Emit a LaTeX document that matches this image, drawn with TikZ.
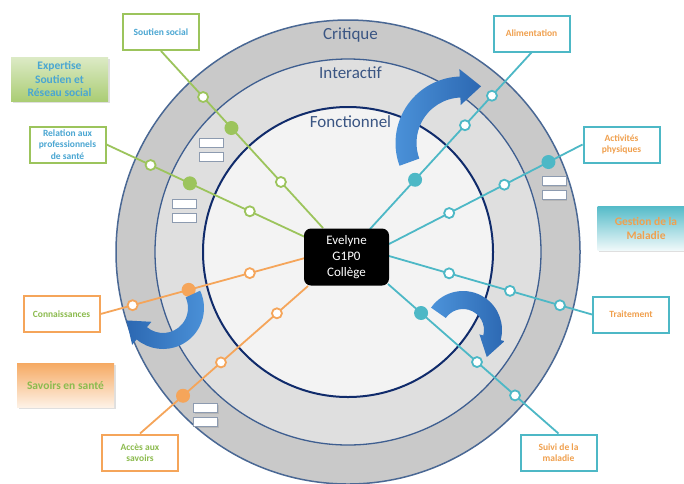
\documentclass[tikz,border=0pt]{standalone}
\usepackage{fontspec}
\setmainfont{Carlito}
\usetikzlibrary{calc,shadows}
\definecolor{ringA}{HTML}{C9C9C9}
\definecolor{ringB}{HTML}{DFDFDF}
\definecolor{ringC}{HTML}{F3F3F3}
\definecolor{lineA}{HTML}{4A6894}
\definecolor{lineB}{HTML}{3E5E90}
\definecolor{lineC}{HTML}{102B6B}
\definecolor{ringtxt}{HTML}{3A5583}
\definecolor{grn}{HTML}{9CC45C}
\definecolor{tea}{HTML}{4DB8C6}
\definecolor{ora}{HTML}{F5A55A}
\definecolor{txtblue}{HTML}{4AA6D2}
\definecolor{txtora}{HTML}{F0A04E}
\definecolor{txtgrn}{HTML}{8CBB4E}
\definecolor{arrlight}{HTML}{4C93DA}
\definecolor{arrdark}{HTML}{2C68B2}
\definecolor{slotc}{HTML}{8D9BB0}
\begin{document}
\begin{tikzpicture}[x=1pt,y=-1pt,
  labbox/.style={draw=#1, line width=2pt, fill=white, minimum width=76pt, minimum height=36pt,
    align=center, font=\fontsize{9.5}{11.3}\selectfont\bfseries, inner sep=1pt,
    drop shadow={shadow xshift=1pt, shadow yshift=-1pt, opacity=0.15}},
  wdot/.style={circle, draw=#1, line width=1.8pt, fill=white, minimum size=10pt, inner sep=0pt},
  fdot/.style={circle, fill=#1, minimum size=14pt, inner sep=0pt},
  spoke/.style={draw=#1, line width=1.8pt},
  slotbox/.style={draw=slotc, line width=0.8pt, fill=white, minimum width=24pt, minimum height=9pt,
    inner sep=0pt, drop shadow={shadow xshift=1pt, shadow yshift=-1pt, opacity=0.25}},
  ringlabel/.style={text=ringtxt, font=\fontsize{17}{19}\selectfont, inner sep=0pt},
  grp/.style={minimum width=97pt, minimum height=44pt, align=center, inner sep=1pt,
    font=\fontsize{11.5}{13.5}\selectfont\bfseries,
    drop shadow={shadow xshift=1.5pt, shadow yshift=-1.5pt, opacity=0.25}},
  bigarrow/.style={draw=none, shade}
]
\useasboundingbox (0,0) rectangle (684,483);
\fill[white] (0,0) rectangle (684,483);

% rings
\coordinate (o) at (348,252);
\draw[fill=ringA, draw=lineA, line width=1.5pt] (o) circle[radius=232];
\draw[fill=ringB, draw=lineB, line width=1.3pt] (o) circle[radius=193];
\draw[fill=ringC, draw=lineC, line width=2pt] (o) circle[radius=145];

\node[ringlabel] (tcrit) at (350.5,35) {Critique};
\node[ringlabel] (tint) at (350.5,73) {Interactif};
\node[ringlabel] (tfon) at (350.5,122) {Fonctionnel};

% small slots
\node[slotbox] (s1a) at (211,142.5) {};
\node[slotbox] (s1b) at (211,156.5) {};
\node[slotbox] (s2a) at (184,203.5) {};
\node[slotbox] (s2b) at (184,217.5) {};
\node[slotbox] (s3a) at (554,181) {};
\node[slotbox] (s3b) at (554,195) {};
\node[slotbox] (s4a) at (205.5,408) {};
\node[slotbox] (s4b) at (205.5,422) {};

% label boxes
\node[labbox=grn, text=txtblue] (l1) at (161,32) {Soutien social};
\node[labbox=grn, text=txtblue] (l2) at (67.5,144.5) {Relation aux\\professionnels\\de santé};
\node[labbox=ora, text=txtgrn] (l3) at (61.5,314) {Connaissances};
\node[labbox=ora, text=txtgrn] (l4) at (140,452.5) {Accès aux\\savoirs};
\node[labbox=tea, text=txtora] (l5) at (531.5,33.5) {Alimentation};
\node[labbox=tea, text=txtora] (l6) at (621.5,144.5) {Activités\\physiques};
\node[labbox=tea, text=txtora] (l7) at (631,314.5) {Traitement};
\node[labbox=tea, text=txtora] (l8) at (558.5,452.5) {Suivi de la\\maladie};

% group labels
\node[grp, top color=grn!35!white, bottom color=grn!85!white, text=txtblue] (g1) at (59.5,79) {Expertise\\Soutien et\\Réseau social};
\node[grp, top color=ora!95!white, bottom color=ora!15!white, text=txtgrn] (g2) at (65.5,385) {Savoirs en santé};
\node[grp, top color=tea!95!white, bottom color=tea!8!white, text=txtora] (g3) at (646,228.5) {Gestion de la\\Maladie};

% spokes inner ends
\coordinate (a1) at (323,228);
\coordinate (a2) at (305,237);
\coordinate (a3) at (305,258);
\coordinate (a4) at (308,286);
\coordinate (a5) at (370,229);
\coordinate (a6) at (389,244);
\coordinate (a7) at (389,256);
\coordinate (a8) at (388,284);

\draw[spoke=grn] (a1) -- (l1.south)
  node[wdot=grn, pos=0.26] (d1a) {} node[fdot=grn, pos=0.565] (d1b) {} node[wdot=grn, pos=0.74] (d1c) {};
\draw[spoke=grn] (a2) -- (l2.east)
  node[wdot=grn, pos=0.278] (d2a) {} node[fdot=grn, pos=0.58] (d2b) {} node[wdot=grn, pos=0.778] (d2c) {};
\draw[spoke=ora] (a3) -- (l3.east)
  node[wdot=ora, pos=0.27] (d3a) {} node[fdot=ora, pos=0.569] (d3b) {} node[wdot=ora, pos=0.843] (d3c) {};
\draw[spoke=ora] (a4) -- (l4.north)
  node[wdot=ora, pos=0.185] (d4a) {} node[wdot=ora, pos=0.518] (d4b) {} node[fdot=ora, pos=0.744] (d4c) {};
\draw[spoke=tea] (a5) -- (l5.south)
  node[fdot=tea, pos=0.279] (d5a) {} node[wdot=tea, pos=0.588] (d5b) {} node[wdot=tea, pos=0.755] (d5c) {};
\draw[spoke=tea] (a6) -- (l6.west)
  node[wdot=tea, pos=0.311] (d6a) {} node[wdot=tea, pos=0.596] (d6b) {} node[fdot=tea, pos=0.824] (d6c) {};
\draw[spoke=tea] (a7) -- (l7.west)
  node[wdot=tea, pos=0.296] (d7a) {} node[wdot=tea, pos=0.596] (d7b) {} node[wdot=tea, pos=0.842] (d7c) {};
\draw[spoke=tea] (a8) -- (l8.north)
  node[fdot=tea, pos=0.194] (d8a) {} node[wdot=tea, pos=0.522] (d8b) {} node[wdot=tea, pos=0.745] (d8c) {};

% center
\node[fill=black, rounded corners=7pt, minimum width=85pt, minimum height=57pt, text=white,
  align=center, font=\fontsize{13}{16}\selectfont] (ev) at (346.5,257) {Evelyne\\G1P0\\Collège};

% curved arrows
\coordinate (c1) at (462,143);
\shade[left color=arrlight, right color=arrdark]
  ($(c1)+(160:66.5)$) arc[start angle=160, end angle=268, radius=66.5]
  -- ($(c1)+(268:74)$) -- ($(c1)+(268:56)+(358:21)$) -- ($(c1)+(268:38)$)
  -- ($(c1)+(268:45.5)$) arc[start angle=268, end angle=160, radius=45.5] -- cycle;

\coordinate (c2) at (163,308);
\shade[left color=arrdark, right color=arrlight]
  ($(c2)+(335:41)$) arc[start angle=335, end angle=490, radius=41]
  -- ($(c2)+(490:48)$) -- ($(c2)+(490:33)+(580:20)$) -- ($(c2)+(490:18)$)
  -- ($(c2)+(490:25)$) arc[start angle=490, end angle=335, radius=25] -- cycle;

\coordinate (c3) at (463,330);
\shade[left color=arrlight, right color=arrdark]
  ($(c3)+(215:39)$) arc[start angle=215, end angle=375, radius=39]
  -- ($(c3)+(375:43)$) -- ($(c3)+(375:30)+(465:20)$) -- ($(c3)+(375:17)$)
  -- ($(c3)+(375:21)$) arc[start angle=375, end angle=215, radius=21] -- cycle;
\end{tikzpicture}
\end{document}
